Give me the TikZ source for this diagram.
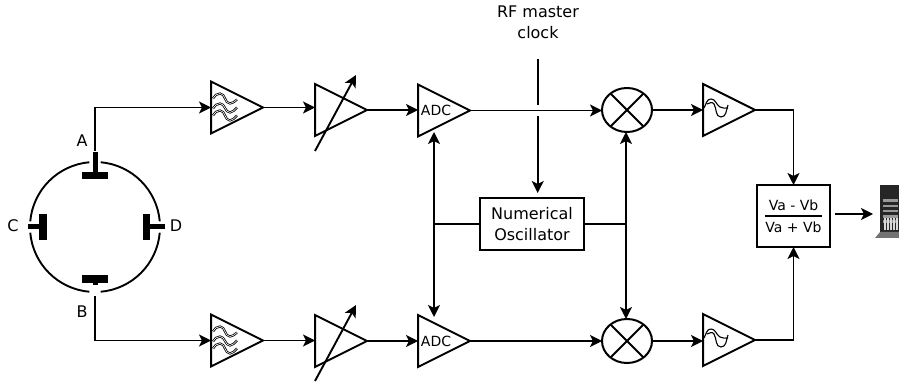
\documentclass[tikz,border=0pt]{standalone}
\usepackage{fontspec}
\setmainfont{DejaVu Sans}
\usetikzlibrary{arrows.meta,shapes.geometric}
\tikzset{
  stage/.style={draw,isosceles triangle,isosceles triangle stretches,shape border rotate=0,
    anchor=lower side,minimum width=52pt,minimum height=52pt,inner sep=0pt,outer sep=0pt,line width=2pt,line join=miter},
  wire/.style={line width=1.9pt},
  block/.style={draw,line width=2pt,inner sep=0pt,outer sep=0pt},
  mixer/.style={draw,ellipse,line width=2pt,minimum width=50pt,minimum height=44pt,inner sep=0pt,outer sep=0pt},
  bar/.style={fill=black,inner sep=0pt,outer sep=0pt},
  label/.style={font=\fontsize{16}{21}\selectfont,align=center,inner sep=0pt},
  small/.style={font=\fontsize{14}{18}\selectfont,inner sep=0pt},
  wavy/.style={line width=.8pt,double=white,double distance=.6pt},
  pics/threewaves/.style={code={
    \draw[wavy] (2,9) to[out=60,in=180] (9,14) to[out=0,in=180] (19,4) to[out=0,in=215] (26,8);
    \draw[wavy] (2,-1) to[out=60,in=180] (9,4) to[out=0,in=180] (19,-5) to[out=0,in=215] (26,0);
    \draw[wavy] (2,-8) to[out=60,in=180] (9,-3) to[out=0,in=180] (19,-13) to[out=0,in=215] (26,-8);
  }},
  pics/onewave/.style={code={
    \draw[line width=1.1pt] (1,2) to[out=60,in=180] (8,11) to[out=0,in=150] (17,3) to[out=-30,in=180] (25,2);
    \draw[line width=1.1pt] (4,6) to[out=30,in=120] (11,6) to[out=-60,in=180] (18,-7) to[out=0,in=-110] (25,5);
  }}
}
\begin{document}
\begin{tikzpicture}[x=1pt,y=1pt]
  \useasboundingbox (0,0) rectangle (899,383);
  \draw
    (95,156) node[circle,minimum size=130pt,inner sep=0pt,outer sep=0pt] (ring){}
    (95,207.5) node[bar,minimum width=26pt,minimum height=7pt] (barA){}
    (95,104) node[bar,minimum width=26pt,minimum height=8pt] (barB){}
    (43,156) node[bar,minimum width=8pt,minimum height=26pt] (barC){}
    (146.5,156) node[bar,minimum width=7pt,minimum height=26pt] (barD){}
    (82,242) node[label] (labelA){A}
    (82,71) node[label] (labelB){B}
    (13,157) node[label] (labelC){C}
    (176,157) node[label] (labelD){D}
    (211,275.5) node[stage] (filtA){}
    (211,42.5) node[stage] (filtB){}
    (315,273) node[stage] (varA){}
    (315,42) node[stage] (varB){}
    (418,272.5) node[stage] (adcA){}
    (418,42) node[stage] (adcB){}
    (436,272.5) node[small] (adcAtext){ADC}
    (436,42) node[small] (adcBtext){ADC}
    (627,273) node[mixer] (mixA){}
    (627,42) node[mixer] (mixB){}
    (703,273) node[stage] (gainA){}
    (703,43) node[stage] (gainB){}
    (532,159) node[block,label,draw,minimum width=104pt,minimum height=52pt] (osc){Numerical\\Oscillator}
    (793.5,167) node[block,minimum width=73pt,minimum height=62pt] (ratio){}
    (793.5,178) node[small] (ratiotop){Va - Vb}
    (793.5,156) node[small] (ratiobot){Va + Vb}
    (538,361) node[label] (clock){RF master\\clock}
    (887,169) node[minimum width=24pt,minimum height=58pt,inner sep=0pt,outer sep=0pt] (pc){};
  \coordinate (tapA) at (95,232);
  \coordinate (tapB) at (95,87);
  \coordinate (stemA) at (95,231);
  \coordinate (stemB) at (95,98);
  \coordinate (stemC) at (28,156);
  \coordinate (stemD) at (165,156);
  \coordinate (rfTop) at (537.7,324);
  \coordinate (rfGapA) at (537.7,278);
  \coordinate (rfGapB) at (537.7,267);
  \coordinate (rfTip) at (537.7,190);
  \coordinate (jnLeft) at (434,159);
  \coordinate (jnRight) at (626,159);
  \coordinate (adcTipA) at (434,251);
  \coordinate (adcTipB) at (434,66);
  \coordinate (varLowA) at (315,232);
  \coordinate (varHighA) at (356,308);
  \coordinate (varLowB) at (315,2);
  \coordinate (varHighB) at (356,78);
  \draw[wire] (ring.85) arc[start angle=85,end angle=5,radius=65pt];
  \draw[wire] (ring.-5) arc[start angle=-5,end angle=-85,radius=65pt];
  \draw[wire] (ring.-95) arc[start angle=-95,end angle=-175,radius=65pt];
  \draw[wire] (ring.175) arc[start angle=175,end angle=95,radius=65pt];
  \begin{scope}[line width=5pt]
    \draw (barA.center) to (stemA);
    \draw (barB.center) to (stemB);
    \draw (barC.center) to (stemC);
    \draw (barD.center) to (stemD);
  \end{scope}
  \pic at (filtA.lower side) {threewaves};
  \pic at (filtB.lower side) {threewaves};
  \pic at (gainA.lower side) {onewave};
  \pic at (gainB.lower side) {onewave};
  \draw[wire] (mixA.45) to (mixA.225);
  \draw[wire] (mixA.135) to (mixA.315);
  \draw[wire] (mixB.45) to (mixB.225);
  \draw[wire] (mixB.135) to (mixB.315);
  \draw[line width=1.5pt] (765,167) to (822,167);
  \fill[black!85] (880,198) rectangle (899,145.5);
  \fill[black!55] (875,145) -- (880,151) -- (899,151) -- (899,145) -- cycle;
  \foreach \y in {181,175.5,170.5,165,160}
    \fill[black!40] (883,\y) rectangle (897.5,\y+2.5);
  \foreach \x in {884,887,890,893,896}
    \fill[black!15] (\x,166-13) rectangle (\x+1.5,166-1);
  \begin{scope}[-{Stealth[length=12pt,width=12pt,inset=3pt]},line width=1.9pt]
    \draw (tapA) |- (filtA.lower side);
    \draw (tapB) |- (filtB.lower side);
    \draw (filtA.apex) to (filtA.apex -| varA.lower side);
    \draw (filtB.apex) to (filtB.apex -| varB.lower side);
    \draw (varA.apex) to (varA.apex -| adcA.lower side);
    \draw (varB.apex) to (varB.apex -| adcB.lower side);
    \draw (adcA.apex) to (adcA.apex -| mixA.west);
    \draw (adcB.apex) to (adcB.apex -| mixB.west);
    \draw (mixA.east) to (mixA.east -| gainA.lower side);
    \draw (mixB.east) to (mixB.east -| gainB.lower side);
    \draw (gainA.apex) -| (ratio.north);
    \draw (gainB.apex) -| (ratio.south);
    \draw (rfGapB) to (rfTip);
    \draw (jnLeft) to (adcTipA);
    \draw (jnLeft) to (adcTipB);
    \draw (jnRight) to (jnRight |- mixA.south);
    \draw (jnRight) to (jnRight |- mixB.north);
    \draw (varLowA) to (varHighA);
    \draw (varLowB) to (varHighB);
    \draw[shorten <=5pt,shorten >=2pt] (ratio.east |- pc.west) to (pc.west);
  \end{scope}
  \begin{scope}[-,line width=1.9pt]
    \draw (rfTop) to (rfGapA);
    \draw (osc.west) to (jnLeft);
    \draw (osc.east) to (jnRight);
  \end{scope}
\end{tikzpicture}
\end{document}
